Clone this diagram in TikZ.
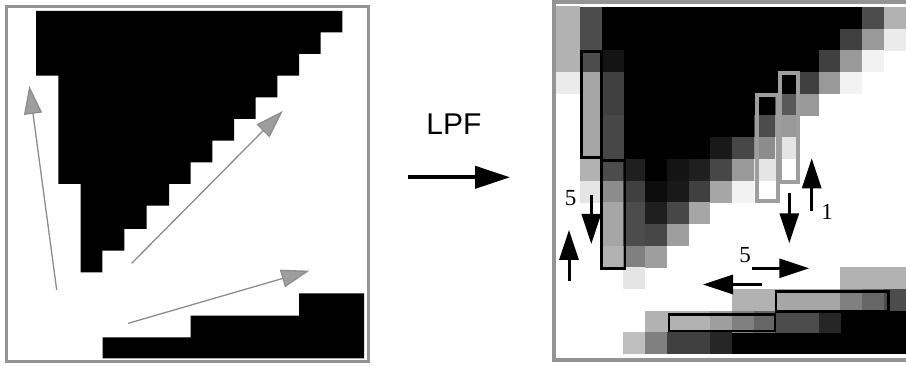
\documentclass[tikz,border=0pt]{standalone}
\usepackage{fontspec}
\setmainfont{Liberation Serif}
\newfontfamily\lpffont{Liberation Sans}
\usetikzlibrary{arrows.meta}
\newcommand\pcell[3]{\fill[black!#3] ({580+21.7*(#1)},{7+21.7*(#2)}) rectangle ++(21.95,21.95);}
\begin{document}
\begin{tikzpicture}[x=1pt,y=-1pt,
  framegray/.style={draw=black!42,line width=3.3pt},
  grayarrow/.style={draw=black!45,line width=1.3pt,-{Triangle[length=28pt,width=18pt,fill=black!38]}},
  blackarrow/.style={draw=black,line width=3pt,-{Triangle[length=30pt,width=19pt]}},
  darkbox/.style={draw=black,line width=2.9pt},
  lightbox/.style={draw=black!38,line width=4pt},
  numlabel/.style={font=\fontsize{23}{23}\selectfont,inner sep=0pt}
]
\useasboundingbox (0,0) rectangle (906,366);

% ---------------- left panel ----------------
\draw[framegray] (6.7,6.7) rectangle (368.7,361.2);
\fill[black] (36,11) -- (342.3,11) -- (342.3,32.3) -- (320.7,32.3) -- (320.7,54) -- (299,54)
  -- (299,75.7) -- (277.3,75.7) -- (277.3,97.3) -- (255.7,97.3) -- (255.7,119) -- (234,119)
  -- (234,140.7) -- (212.3,140.7) -- (212.3,162.3) -- (190.7,162.3) -- (190.7,184) -- (169,184)
  -- (169,205.7) -- (146.7,205.7) -- (146.7,229) -- (124.3,229) -- (124.3,250.7) -- (102.3,250.7)
  -- (102.3,272.3) -- (80.7,272.3) -- (80.7,184) -- (58.3,184) -- (58.3,75.7) -- (36,75.7) -- cycle;
\fill[black] (102.7,337.3) -- (190.7,337.3) -- (190.7,315.7) -- (299,315.7) -- (299,293.3)
  -- (364,293.3) -- (364,358.3) -- (102.7,358.3) -- cycle;

\coordinate (g1s) at (56.7,290);   \coordinate (g1e) at (29.3,86);
\coordinate (g2s) at (131.7,263.3); \coordinate (g2e) at (282.7,111);
\coordinate (g3s) at (128.3,323.3); \coordinate (g3e) at (309.3,270.7);
\draw[grayarrow] (g1s) -- (g1e);
\draw[grayarrow] (g2s) -- (g2e);
\draw[grayarrow] (g3s) -- (g3e);

% ---------------- LPF ----------------
\node[font=\lpffont\fontsize{30}{30}\selectfont,inner sep=0pt] (lpf) at (454,124.5) {LPF};
\coordinate (lpfS) at (408,177.3);
\coordinate (lpfE) at (510,177.3);
\draw[line width=3.8pt,-{Triangle[length=35pt,width=22pt]}] (lpfS) -- (lpfE);

% ---------------- right panel ----------------
\fill[black!30] (556,6.5) rectangle (580.2,72.2);
\fill[black!8] (556,72.1) rectangle (580.2,93.9);
\foreach \r/\a/\b in {0/1/12,1/1/11,2/2/10,3/2/9,4/2/8,5/2/7,6/2/5,7/3/3,14/12/14,15/7/14}
  {\foreach \c in {\a,...,\b}{\pcell{\c}{\r}{100}}}
\foreach \c/\r/\v in {
  0/0/70,13/0/70,14/0/30,
  0/1/70,12/1/75,13/1/40,14/1/8,
  0/2/70,1/2/92,11/2/75,12/2/40,13/2/5,
  0/3/35,1/3/75,10/3/75,11/3/40,12/3/5,
  0/4/35,1/4/75,9/4/65,10/4/40,
  0/5/35,1/5/72,8/5/70,9/5/40,
  0/6/35,1/6/72,6/6/90,7/6/72,8/6/45,9/6/10,
  0/7/30,1/7/70,2/7/88,4/7/92,5/7/88,6/7/72,7/7/40,8/7/10,
  0/8/10,1/8/45,2/8/75,3/8/95,4/8/90,5/8/75,6/8/35,7/8/5,
  1/9/35,2/9/70,3/9/88,4/9/72,5/9/35,
  1/10/35,2/10/70,3/10/72,4/10/38,
  1/11/30,2/11/50,3/11/38,
  2/12/10,12/12/30,13/12/30,14/12/30,
  7/13/30,8/13/30,9/13/35,10/13/35,11/13/35,12/13/50,13/13/60,14/13/70,
  3/14/30,4/14/30,5/14/30,6/14/38,7/14/50,8/14/60,9/14/70,10/14/70,11/14/85,
  2/15/25,3/15/50,4/15/75,5/15/75,6/15/85}
  {\pcell{\c}{\r}{\v}}

\draw[framegray,line width=4pt] (906,2) -- (554,2) -- (554,360.5) -- (906,360.5);

% outlined boxes
\draw[lightbox] (779.8,73) rectangle (798,182);
\draw[lightbox] (756.5,95.3) rectangle (777.5,201.3);
\draw[darkbox] (581.3,51.2) rectangle (601.3,157.7);
\draw[darkbox] (601.5,160.5) rectangle (625,268.3);
\draw[darkbox] (669,314.7) rectangle (775,331);
\draw[darkbox] (776,291.3) rectangle (888.3,311.3);

% black arrows
\coordinate (a1s) at (569,280.7);   \coordinate (a1e) at (569,230);
\coordinate (a2s) at (591.3,195);   \coordinate (a2e) at (591.3,244);
\coordinate (a3s) at (789.3,193.3); \coordinate (a3e) at (789.3,243.3);
\coordinate (a4s) at (811.7,210.7); \coordinate (a4e) at (811.7,158.3);
\coordinate (a5s) at (752,268.3);   \coordinate (a5e) at (809.3,268.3);
\coordinate (a6s) at (762,284.5);   \coordinate (a6e) at (703,284.5);
\draw[blackarrow] (a1s) -- (a1e);
\draw[blackarrow] (a2s) -- (a2e);
\draw[blackarrow] (a3s) -- (a3e);
\draw[blackarrow] (a4s) -- (a4e);
\draw[blackarrow] (a5s) -- (a5e);
\draw[blackarrow] (a6s) -- (a6e);

\node[numlabel] (n5a) at (570.5,198.3) {5};
\node[numlabel] (n1) at (827,211.7) {1};
\node[numlabel] (n5b) at (745,255) {5};
\end{tikzpicture}
\end{document}
